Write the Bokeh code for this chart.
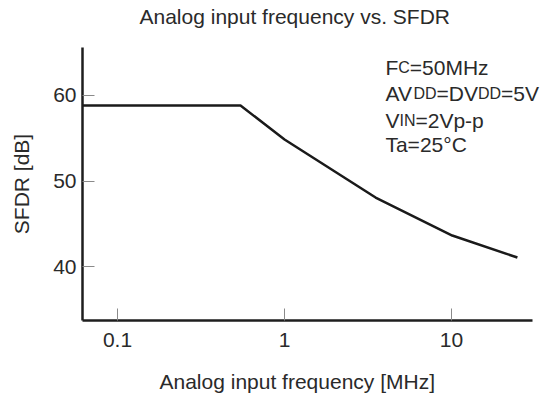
from bokeh.plotting import figure
from bokeh.models import Label, FixedTicker, Range1d, Title
from bokeh.embed import file_html
from bokeh.resources import INLINE

# ---- data ----
freq_mhz = [0.0617, 0.545, 1.0, 3.51, 10.1, 24.8]
sfdr_db = [58.82, 58.82, 54.85, 48.07, 43.63, 41.06]
x_ticks = [0.1, 1, 10]
x_tick_labels = ["0.1", "1", "10"]
y_ticks = [40, 50, 60]
y_tick_labels = ["40", "50", "60"]

title_text = "Analog input frequency vs. SFDR"
x_label_text = "Analog input frequency [MHz]"
y_label_text = "SFDR [dB]"

# annotation lines: (text piece, is_small)
note_lines = [
    [("F", False), ("C", True), ("=50MHz", False)],
    [("AV", False), ("DD", True), ("=DV", False), ("DD", True), ("=5V", False)],
    [("V", False), ("IN", True), ("=2Vp-p", False)],
    [("Ta=25°C", False)],
]

# ---- style / placement ----
FONT = "Liberation Sans"
BIG = 21
SMALL = 16
TXT = "#2a2a2a"
X_AXIS_END = 30.5

# Liberation Sans advance widths (em)
W = {"A": .667, "B": .667, "C": .722, "D": .722, "F": .611, "I": .278, "N": .722,
     "V": .667, "T": .611, "M": .833, "H": .722, "a": .556, "z": .5, "p": .556,
     "-": .333, "=": .584, "0": .556, "1": .556, "2": .556, "5": .556, "°": .4}


def text_width(s, size):
    return sum(W.get(c, .556) for c in s) * size


p = figure(width=549, height=403, x_axis_type="log", title=None,
           x_range=Range1d(0.0617, 38.6), y_range=Range1d(33.7, 65.6),
           output_backend="svg", toolbar_location=None,
           min_border_left=82, min_border_right=0,
           min_border_top=47, min_border_bottom=83)

p.grid.visible = False
p.outline_line_color = None

for ax in (p.xaxis[0], p.yaxis[0]):
    ax.axis_line_width = 2.5
    ax.axis_line_color = "#1e1e1e"
    ax.major_tick_in = 12
    ax.major_tick_out = 0
    ax.minor_tick_in = 0
    ax.minor_tick_out = 0
    ax.major_tick_line_color = "#8a8a8a"
    ax.major_tick_line_width = 1
    ax.major_label_text_font = FONT
    ax.major_label_text_font_size = f"{BIG}px"
    ax.major_label_text_color = TXT
    ax.axis_label_text_font = FONT
    ax.axis_label_text_font_size = f"{BIG}px"
    ax.axis_label_text_font_style = "normal"
    ax.axis_label_text_color = TXT

p.xaxis.ticker = FixedTicker(ticks=x_ticks, minor_ticks=[])
p.xaxis.major_label_overrides = {t: l for t, l in zip(x_ticks, x_tick_labels)}
p.xaxis.major_label_standoff = 12
p.xaxis.bounds = (0.0617, X_AXIS_END)
p.yaxis.ticker = FixedTicker(ticks=y_ticks, minor_ticks=[])
p.yaxis.major_label_overrides = {t: l for t, l in zip(y_ticks, y_tick_labels)}
p.yaxis.major_label_standoff = 6
p.yaxis.axis_label = y_label_text
p.yaxis.axis_label_standoff = 17


def caption(text, offset, standoff, size=BIG):
    return Title(text=text, align="left", offset=offset, standoff=standoff,
                 vertical_align="bottom", text_font=FONT,
                 text_font_size=f"{size}px", text_font_style="normal",
                 text_color=TXT)


# top: thin spacer next to the frame, then the title
p.add_layout(caption(" ", 0, 16.4, size=1), "above")
p.add_layout(caption(title_text, 57, 0), "above")
# bottom: axis, spacer, then the axis caption
p.add_layout(caption(" ", 0, 14.8, size=1), "below")
p.add_layout(caption(x_label_text, 77, 0), "below")

p.line(freq_mhz, sfdr_db, line_width=2.5, line_color="#1a1a1a")

note_x = 4.02
note_y = [63.3, 60.2, 57.1, 54.3]
for pieces, yy in zip(note_lines, note_y):
    off = 0.0
    for s, small in pieces:
        size = SMALL if small else BIG
        p.add_layout(Label(x=note_x, y=yy, x_offset=off, text=s,
                           text_font=FONT, text_font_size=f"{size}px",
                           text_color=TXT, text_baseline="alphabetic",
                           text_align="left"))
        off += text_width(s, size)

open("out.html", "w").write(file_html(p, INLINE))
